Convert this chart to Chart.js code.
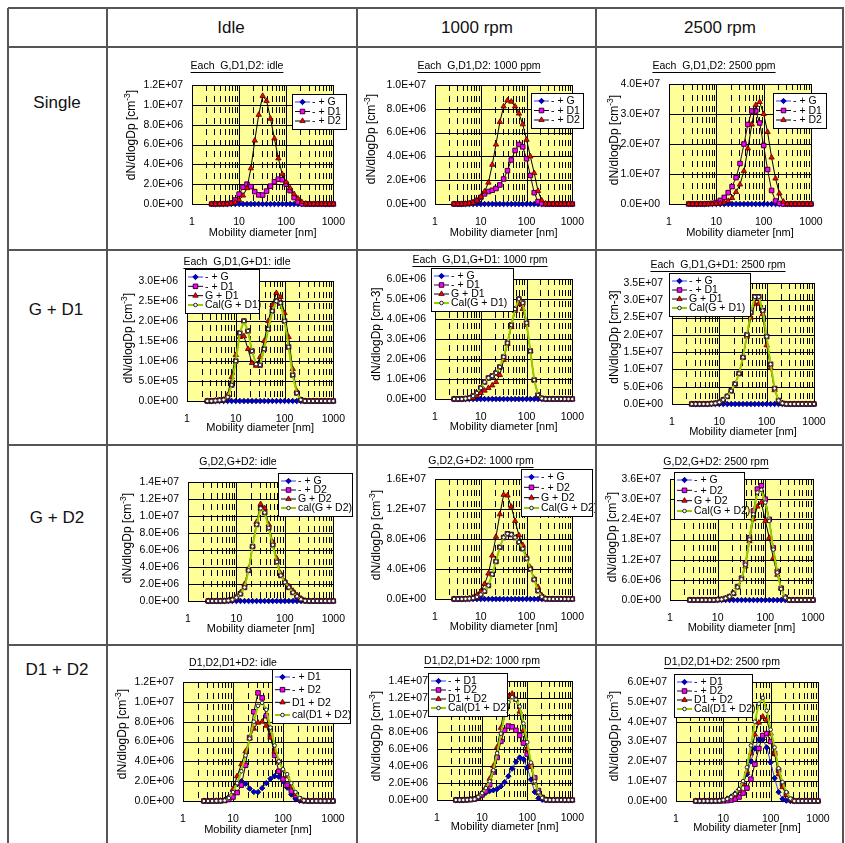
<!DOCTYPE html>
<html><head><meta charset="utf-8">
<script src="https://cdn.jsdelivr.net/npm/chart.js@4.4.1/dist/chart.umd.min.js"></script>
<style>
html,body{margin:0;padding:0;background:#fff;}
#page{position:relative;width:845px;height:843px;overflow:hidden;font-family:'Liberation Sans',Arial,sans-serif;}
.hl{position:absolute;height:2px;background:#555;z-index:2}
.vl{position:absolute;width:2px;background:#555;z-index:2}
.lab{position:absolute;font-size:17px;font-weight:400;color:#111;transform:translate(-50%,-50%);white-space:pre;z-index:3}
canvas{position:absolute;z-index:1}
</style></head><body><div id="page"></div>
<script>
// ---------- DATA ----------
const diameters = [2.61,3.16,3.83,4.64,5.62,6.81,8.25,10.0,12.1,14.7,17.8,21.5,26.1,31.6,38.3,46.4,56.2,68.1,82.5,100,121,147,178,215,261,316,383,464,562,681,825,1000];

const G_idle = [0,0,0,0,0,0,0,0,0,0,0,0,0,0,0,0,0,0,0,0,0,0,0,0,0,0,0,0,0,0,0,0];
const G_1000 = [0,0,0,0,0,0,0,0,0,0,0,0,0,0,0,0,0,0,0,0,0,0,0,0,0,0,0,0,0,0,0,0];
const G_2500 = [0,0,0,0,0,0,0,0,0,0,0,0,0,0,0,0,0,0,0,0,0,0,0,0,0,0,0,0,0,0,0,0];

const D1_idle = [0,0,0.01e6,0.02e6,0.03e6,0.1e6,0.4e6,1.0e6,1.7e6,2.0e6,1.75e6,1.25e6,0.92e6,0.9e6,1.3e6,1.8e6,2.25e6,2.5e6,2.45e6,2.0e6,1.35e6,0.65e6,0.2e6,0.03e6,0,0,0,0,0,0,0,0];
const D2_idle = [0,0,0,0,0.01e6,0.05e6,0.15e6,0.4e6,0.85e6,1.6e6,3.6e6,6.4e6,9.0e6,10.9e6,10.4e6,8.6e6,6.6e6,4.6e6,3.0e6,2.2e6,1.6e6,1.0e6,0.55e6,0.2e6,0.03e6,0,0,0,0,0,0,0];
const D1_1000 = [0,0,0,0.02e6,0.05e6,0.15e6,0.3e6,0.55e6,0.85e6,1.05e6,1.15e6,1.3e6,1.6e6,2.1e6,2.8e6,3.7e6,4.5e6,5.0e6,4.8e6,3.8e6,2.4e6,0.95e6,0.2e6,0.03e6,0,0,0,0,0,0,0,0];
const D2_1000 = [0,0,0,0.02e6,0.05e6,0.12e6,0.28e6,0.6e6,1.05e6,1.8e6,3.3e6,5.0e6,6.9e6,8.2e6,8.7e6,8.6e6,8.2e6,7.6e6,6.7e6,5.4e6,4.0e6,2.6e6,1.1e6,0.3e6,0.03e6,0,0,0,0,0,0,0];
const D1_2500 = [0,0,0,0,0,0.01e7,0.02e7,0.05e7,0.12e7,0.22e7,0.38e7,0.58e7,0.88e7,1.35e7,2.0e7,2.65e7,3.1e7,3.1e7,2.7e7,1.95e7,1.15e7,0.45e7,0.1e7,0.02e7,0,0,0,0,0,0,0,0];
const D2_2500 = [0,0,0,0,0,0,0,0.01e7,0.02e7,0.05e7,0.1e7,0.2e7,0.4e7,0.65e7,1.1e7,1.85e7,2.65e7,3.3e7,3.4e7,3.0e7,2.4e7,1.55e7,0.85e7,0.35e7,0.08e7,0,0,0,0,0,0,0];

const GD1_idle = [0,0,0.01e6,0.02e6,0.03e6,0.15e6,0.6e6,1.15e6,1.6e6,1.62e6,1.3e6,0.95e6,0.88e6,1.1e6,1.5e6,2.0e6,2.4e6,2.7e6,2.6e6,2.2e6,1.6e6,0.8e6,0.25e6,0.03e6,0,0,0,0,0,0,0,0];
const GD1_1000 = [0,0,0,0.01e6,0.03e6,0.06e6,0.15e6,0.3e6,0.42e6,0.55e6,0.68e6,0.85e6,1.2e6,1.95e6,2.75e6,3.6e6,4.4e6,4.75e6,4.5e6,3.7e6,2.4e6,0.95e6,0.2e6,0.03e6,0,0,0,0,0,0,0,0];
const GD1_2500 = [0,0,0,0,0,0.01e7,0.02e7,0.05e7,0.12e7,0.22e7,0.38e7,0.58e7,0.88e7,1.35e7,1.95e7,2.5e7,2.9e7,2.9e7,2.6e7,1.7e7,1.05e7,0.4e7,0.1e7,0.02e7,0,0,0,0,0,0,0,0];

const GD2_idle = [0,0,0,0,0.01e6,0.05e6,0.2e6,0.5e6,1.0e6,2.0e6,3.8e6,6.5e6,9.3e6,11.4e6,10.9e6,9.0e6,6.9e6,5.0e6,3.2e6,2.3e6,1.75e6,1.2e6,0.7e6,0.3e6,0.05e6,0,0,0,0,0,0,0];
const GD2_1000 = [0,0,0,0.03e6,0.08e6,0.2e6,0.55e6,1.0e6,2.0e6,3.4e6,5.8e6,8.3e6,11.3e6,13.9e6,13.8e6,12.3e6,10.4e6,8.5e6,7.2e6,5.6e6,4.2e6,2.7e6,1.6e6,0.5e6,0.05e6,0,0,0,0,0,0,0];
const GD2_2500 = [0,0,0,0,0,0,0,0.01e7,0.02e7,0.05e7,0.1e7,0.2e7,0.38e7,0.62e7,1.0e7,1.75e7,2.4e7,2.78e7,2.9e7,2.35e7,1.85e7,1.25e7,0.75e7,0.35e7,0.08e7,0,0,0,0,0,0,0];
const calGD2_2500 = [0,0,0,0,0,0,0,0.01e7,0.02e7,0.05e7,0.1e7,0.2e7,0.38e7,0.62e7,1.05e7,1.8e7,2.55e7,3.2e7,3.28e7,2.9e7,2.35e7,1.5e7,0.82e7,0.33e7,0.07e7,0,0,0,0,0,0,0];

const D1D2_idle = [0,0,0,0.01e6,0.02e6,0.05e6,0.3e6,1.2e6,2.5e6,3.7e6,5.0e6,6.3e6,7.3e6,7.9e6,8.0e6,7.6e6,6.4e6,5.0e6,4.0e6,3.1e6,2.5e6,1.5e6,0.7e6,0.2e6,0.03e6,0,0,0,0,0,0,0];
const calD1D2_idle = [0,0,0,0.01e6,0.02e6,0.05e6,0.3e6,0.9e6,1.8e6,3.0e6,4.6e6,6.3e6,8.0e6,9.6e6,9.9e6,9.2e6,7.4e6,5.6e6,4.0e6,3.2e6,2.7e6,1.8e6,0.9e6,0.3e6,0.05e6,0,0,0,0,0,0,0];
const D1D2_1000 = [0,0,0,0.02e6,0.05e6,0.1e6,0.35e6,0.8e6,1.5e6,2.5e6,4.0e6,6.2e6,8.5e6,11.0e6,12.2e6,12.5e6,11.8e6,10.4e6,8.2e6,6.0e6,3.9e6,2.0e6,0.8e6,0.25e6,0.03e6,0,0,0,0,0,0,0];
const calD1D2_1000 = [0,0,0,0.02e6,0.05e6,0.1e6,0.35e6,0.8e6,1.4e6,2.2e6,3.5e6,5.5e6,7.8e6,10.0e6,11.5e6,12.1e6,11.8e6,11.0e6,9.0e6,6.8e6,4.4e6,2.2e6,0.9e6,0.25e6,0.03e6,0,0,0,0,0,0,0];
const D1D2_2500 = [0,0,0,0,0,0,0.01e7,0.05e7,0.1e7,0.2e7,0.3e7,0.5e7,0.85e7,1.5e7,2.4e7,3.35e7,3.95e7,4.25e7,4.1e7,3.4e7,2.4e7,1.35e7,0.7e7,0.3e7,0.05e7,0,0,0,0,0,0,0];
const calD1D2_2500 = [0,0,0,0,0,0,0.01e7,0.05e7,0.1e7,0.2e7,0.35e7,0.6e7,1.0e7,1.7e7,2.8e7,4.0e7,4.9e7,5.2e7,4.55e7,3.6e7,2.7e7,1.65e7,0.95e7,0.45e7,0.12e7,0,0,0,0,0,0,0];

const xTickValues = [1,10,100,1000];
const colHeaders = ['Idle','1000 rpm','2500 rpm'];
const rowHeaders = ['Single','G + D1','G + D2','D1 + D2'];

// ---------- STYLES / LAYOUT ----------
const FONT = "'Liberation Sans', Arial, sans-serif";
const STY = {
  blue:{borderColor:'#3a3aff',borderWidth:1,pointStyle:'rectRot',pointRadius:2.7,pointBackgroundColor:'#0000cc',pointBorderColor:'#000080',pointBorderWidth:1},
  mag:{borderColor:'#220022',borderWidth:1,pointStyle:'rect',pointRadius:3.2,pointBackgroundColor:'#ff00ff',pointBorderColor:'#330033',pointBorderWidth:1},
  red:{borderColor:'#000000',borderWidth:1,pointStyle:'triangle',pointRadius:3.1,pointBackgroundColor:'#ff0000',pointBorderColor:'#400000',pointBorderWidth:0.8},
  cal:{borderColor:'#99cc00',borderWidth:2,pointStyle:'circle',pointRadius:1.8,pointBackgroundColor:'#ffffff',pointBorderColor:'#222222',pointBorderWidth:1}
};
const COLS = [[107,250],[357,239],[596,247]];
const ROWS = [[47,203],[250,195],[445,200],[645,198]];

const CHARTS = [
 {r:0,c:0,title:'Each  G,D1,D2: idle',ymax:1.2e7,step:2e6,sup:true,plot:[192,85,337,204],tt:[237,66],yt:[132,135],xt:233,leg:[292,94,346,129],
  series:[['- + G',G_idle,'blue'],['- + D1',D1_idle,'mag'],['- + D2',D2_idle,'red']]},
 {r:0,c:1,title:'Each  G,D1,D2: 1000 ppm',ymax:1e7,step:2e6,sup:true,plot:[435,85,576,204],tt:[479,66],yt:[372,139],xt:233,leg:[531,93,583,128],
  series:[['- + G',G_1000,'blue'],['- + D1',D1_1000,'mag'],['- + D2',D2_1000,'red']]},
 {r:0,c:2,title:'Each  G,D1,D2: 2500 ppm',ymax:4e7,step:1e7,sup:true,plot:[669,84,811,204],tt:[714,66],yt:[615,140],xt:233,leg:[773,93,826,128],
  series:[['- + G',G_2500,'blue'],['- + D1',D1_2500,'mag'],['- + D2',D2_2500,'red']]},
 {r:1,c:0,title:'Each  G,D1,G+D1: idle',ymax:3e6,step:5e5,sup:true,plot:[187,281,337,401],tt:[237,262],yt:[129,338],xt:428,leg:[185,269,259,313],
  series:[['- + G',G_idle,'blue'],['- + D1',D1_idle,'mag'],['G + D1',GD1_idle,'red'],['Cal(G + D1)',D1_idle,'cal']]},
 {r:1,c:1,title:'Each  G,D1,G+D1: 1000 rpm',ymax:6e6,step:1e6,sup:false,plot:[435,279,576,399],tt:[480,260],yt:[377,334],xt:427,leg:[431,268,513,311],
  series:[['- + G',G_1000,'blue'],['- + D1',D1_1000,'mag'],['G + D1',GD1_1000,'red'],['Cal(G + D1)',D1_1000,'cal']]},
 {r:1,c:2,title:'Each  G,D1,G+D1: 2500 rpm',ymax:3.5e7,step:5e6,sup:false,plot:[672,283,814,404],tt:[718,265],yt:[615,337],xt:432,leg:[669,273,750,316],
  series:[['- + G',G_2500,'blue'],['- + D1',D1_2500,'mag'],['G + D1',GD1_2500,'red'],['Cal(G + D1)',D1_2500,'cal']]},
 {r:2,c:0,title:'G,D2,G+D2: idle',ymax:1.4e7,step:2e6,sup:true,plot:[188,482,338,601],tt:[238,462],yt:[128,538],xt:629,leg:[278,473,352,516],
  series:[['- + G',G_idle,'blue'],['- + D2',D2_idle,'mag'],['G + D2',GD2_idle,'red'],['cal(G + D2)',D2_idle,'cal']]},
 {r:2,c:1,title:'G,D2,G+D2: 1000 rpm',ymax:1.6e7,step:4e6,sup:true,plot:[435,479,576,599],tt:[481,461],yt:[377,535],xt:627,leg:[521,469,592,516],
  series:[['- + G',G_1000,'blue'],['- + D2',D2_1000,'mag'],['G + D2',GD2_1000,'red'],['Cal(G + D2)',D2_1000,'cal']]},
 {r:2,c:2,title:'G,D2,G+D2: 2500 rpm',ymax:3.6e7,step:6e6,sup:true,plot:[670,479,813,600],tt:[716,462],yt:[613,537],xt:628,leg:[674,472,744,519],
  series:[['- + G',G_2500,'blue'],['- + D2',D2_2500,'mag'],['G + D2',GD2_2500,'red'],['Cal(G + D2)',calGD2_2500,'cal']]},
 {r:3,c:0,title:'D1,D2,D1+D2: idle',ymax:1.2e7,step:2e6,sup:true,plot:[183,682,333,801],tt:[233,663],yt:[123,734],xt:830,leg:[272,669,350,723],
  series:[['- + D1',D1_idle,'blue'],['- + D2',D2_idle,'mag'],['D1 + D2',D1D2_idle,'red'],['cal(D1 + D2)',calD1D2_idle,'cal']]},
 {r:3,c:1,title:'D1,D2,D1+D2: 1000 rpm',ymax:1.4e7,step:2e6,sup:true,plot:[437,681,578,800],tt:[482,661],yt:[377,736],xt:827,leg:[428,673,507,716],
  series:[['- + D1',D1_1000,'blue'],['- + D2',D2_1000,'mag'],['D1 + D2',D1D2_1000,'red'],['Cal(D1 + D2)',calD1D2_1000,'cal']]},
 {r:3,c:2,title:'D1,D2,D1+D2: 2500 rpm',ymax:6e7,step:1e7,sup:true,plot:[676,682,818,801],tt:[722,662],yt:[615,736],xt:828,leg:[674,674,752,717],
  series:[['- + D1',D1_2500,'blue'],['- + D2',D2_2500,'mag'],['D1 + D2',D1D2_2500,'red'],['Cal(D1 + D2)',calD1D2_2500,'cal']]}
];

// ---------- HELPERS ----------
function fmtE(v){
  if (Math.abs(v) < 1e-6) return '0.0E+00';
  let e = Math.floor(Math.log10(v));
  let m = v / Math.pow(10, e);
  if (+m.toFixed(1) >= 10) { e += 1; m = m / 10; }
  return m.toFixed(1) + 'E+' + String(e).padStart(2, '0');
}
function marker(ctx, st, x, y){
  const r = st.pointRadius;
  ctx.beginPath();
  if (st.pointStyle === 'rectRot'){ ctx.moveTo(x,y-r); ctx.lineTo(x+r,y); ctx.lineTo(x,y+r); ctx.lineTo(x-r,y); ctx.closePath(); }
  else if (st.pointStyle === 'rect'){ const s = r*Math.SQRT1_2; ctx.rect(x-s,y-s,2*s,2*s); }
  else if (st.pointStyle === 'triangle'){
    let a = 0; ctx.moveTo(x+Math.sin(a)*r, y-Math.cos(a)*r);
    a += 2*Math.PI/3; ctx.lineTo(x+Math.sin(a)*r, y-Math.cos(a)*r);
    a += 2*Math.PI/3; ctx.lineTo(x+Math.sin(a)*r, y-Math.cos(a)*r); ctx.closePath();
  } else { ctx.arc(x,y,r,0,Math.PI*2); }
  ctx.fillStyle = st.pointBackgroundColor; ctx.fill();
  ctx.lineWidth = st.pointBorderWidth; ctx.strokeStyle = st.pointBorderColor; ctx.stroke();
}

const framePlugin = {
  id:'frame',
  beforeDatasetsDraw(chart){
    const {ctx, chartArea:a, scales:{x, y}} = chart;
    ctx.save();
    ctx.fillStyle = '#FFFF99';
    ctx.fillRect(a.left, a.top, a.right-a.left, a.bottom-a.top);
    ctx.strokeStyle = '#000'; ctx.lineWidth = 1;
    ctx.setLineDash([6,5]);
    for (const dec of [1,10,100]) for (let m = 2; m <= 9; m++){
      const px = Math.round(x.getPixelForValue(m*dec)) + 0.5;
      ctx.beginPath(); ctx.moveTo(px, a.top); ctx.lineTo(px, a.bottom); ctx.stroke();
    }
    ctx.setLineDash([]);
    for (const v of [10,100]){
      const px = Math.round(x.getPixelForValue(v)) + 0.5;
      ctx.beginPath(); ctx.moveTo(px, a.top); ctx.lineTo(px, a.bottom); ctx.stroke();
    }
    for (const t of y.ticks){
      const py = Math.round(y.getPixelForValue(t.value)) + 0.5;
      ctx.beginPath(); ctx.moveTo(a.left, py); ctx.lineTo(a.right, py); ctx.stroke();
    }
    ctx.strokeRect(Math.round(a.left)+0.5, Math.round(a.top)+0.5, Math.round(a.right-a.left), Math.round(a.bottom-a.top));
    ctx.restore();
  }
};

function makeAnnot(spec, cx, cy){
  return {
    id:'annot',
    afterDraw(chart){
      const ctx = chart.ctx, a = chart.chartArea;
      ctx.save();
      ctx.fillStyle = '#000'; ctx.strokeStyle = '#000';
      // chart title, underlined
      ctx.font = '10.5px ' + FONT; ctx.textAlign = 'center'; ctx.textBaseline = 'middle';
      const tx = spec.tt[0]-cx, ty = spec.tt[1]-cy;
      ctx.fillText(spec.title, tx, ty);
      const w = ctx.measureText(spec.title).width;
      ctx.lineWidth = 1; ctx.beginPath();
      ctx.moveTo(tx-w/2, Math.round(ty+6)+0.5); ctx.lineTo(tx+w/2, Math.round(ty+6)+0.5); ctx.stroke();
      // x title
      ctx.font = '11px ' + FONT;
      ctx.fillText('Mobility diameter [nm]', (a.left+a.right)/2, spec.xt-cy);
      // y title
      ctx.save();
      ctx.translate(spec.yt[0]-cx, spec.yt[1]-cy); ctx.rotate(-Math.PI/2);
      ctx.textAlign = 'left';
      const segs = spec.sup ? [['dN/dlogDp [cm',12,0],['-3',8.5,-4],[']',12,0]] : [['dN/dlogDp [cm-3]',12,0]];
      let tot = 0;
      for (const s of segs){ ctx.font = s[1]+'px '+FONT; tot += ctx.measureText(s[0]).width; }
      let px = -tot/2;
      for (const s of segs){ ctx.font = s[1]+'px '+FONT; ctx.fillText(s[0], px, s[2]); px += ctx.measureText(s[0]).width; }
      ctx.restore();
      // legend
      const [x1,y1,x2,y2] = [spec.leg[0]-cx, spec.leg[1]-cy, spec.leg[2]-cx, spec.leg[3]-cy];
      ctx.fillStyle = '#fff'; ctx.fillRect(x1,y1,x2-x1,y2-y1);
      ctx.strokeStyle = '#000'; ctx.lineWidth = 1; ctx.strokeRect(x1+0.5,y1+0.5,x2-x1,y2-y1);
      const n = spec.series.length, stp = (y2-y1-16)/(n-1);
      spec.series.forEach((s,i) => {
        const st = STY[s[2]], yy = y1 + 8 + i*stp;
        ctx.strokeStyle = st.borderColor; ctx.lineWidth = st.borderWidth;
        ctx.beginPath(); ctx.moveTo(x1+3, yy); ctx.lineTo(x1+18, yy); ctx.stroke();
        marker(ctx, st, x1+10.5, yy);
        ctx.fillStyle = '#000'; ctx.font = '10.5px ' + FONT; ctx.textAlign = 'left'; ctx.textBaseline = 'middle';
        ctx.fillText(s[0], x1+20, yy+0.5);
      });
      ctx.restore();
    }
  };
}

// ---------- BUILD PAGE ----------
const page = document.getElementById('page');
function div(cls, css, txt){ const d = document.createElement('div'); d.className = cls; Object.assign(d.style, css); if (txt) d.textContent = txt; page.appendChild(d); }
[8,47,250,445,645].forEach(y => div('hl', {left:'8px', top:(y-1)+'px', width:'836px'}));
[8,107,357,596,843].forEach(x => div('vl', {left:(x-1)+'px', top:'8px', height:'840px'}));
[[231,28],[477,28],[720,28]].forEach((p,i) => div('lab', {left:p[0]+'px', top:p[1]+'px'}, colHeaders[i]));
[[57,103],[56,310],[57,518],[57,670]].forEach((p,i) => div('lab', {left:p[0]+'px', top:p[1]+'px'}, rowHeaders[i]));

Chart.defaults.font.family = FONT;
Chart.defaults.color = '#000';
const YW = 48, XH = 24;

CHARTS.forEach(spec => {
  const [cx, cw] = COLS[spec.c], [cy, ch] = ROWS[spec.r];
  const cv = document.createElement('canvas');
  cv.width = cw; cv.height = ch;
  cv.style.left = cx + 'px'; cv.style.top = cy + 'px';
  cv.style.width = cw + 'px'; cv.style.height = ch + 'px';
  page.appendChild(cv);
  const [L,T,R,B] = spec.plot;
  const pad = {left: L-cx-YW, top: T-cy, right: cx+cw-R, bottom: cy+ch-B-XH};
  const n = spec.series.length;
  const datasets = spec.series.map((s, i) => Object.assign({
    label: s[0],
    data: diameters.map((d, k) => ({x: d, y: s[1][k]})),
    order: n - i, fill: false, tension: 0, clip: false
  }, STY[s[2]]));
  new Chart(cv, {
    type: 'line',
    data: {datasets},
    options: {
      responsive: false, animation: false, devicePixelRatio: 1,
      layout: {padding: pad},
      plugins: {legend: {display: false}, tooltip: {enabled: false}, title: {display: false}},
      scales: {
        x: {type: 'logarithmic', min: 1, max: 1000,
            afterBuildTicks: sc => { sc.ticks = xTickValues.map(v => ({value: v})); },
            afterFit: sc => { sc.height = XH; },
            ticks: {callback: v => String(v), autoSkip: false, maxRotation: 0, font: {size: 10.5}, color: '#000', padding: 12},
            grid: {drawOnChartArea: false, drawTicks: false},
            border: {display: false}},
        y: {min: 0, max: spec.ymax,
            afterFit: sc => { sc.width = YW; },
            ticks: {stepSize: spec.step, callback: v => fmtE(v), font: {size: 10.5}, color: '#000', padding: 5},
            grid: {drawOnChartArea: false, drawTicks: true, tickLength: 4, tickColor: 'rgba(0,0,0,0)'},
            border: {display: false}}
      }
    },
    plugins: [framePlugin, makeAnnot(spec, cx, cy)]
  });
});
</script>
</body></html>
